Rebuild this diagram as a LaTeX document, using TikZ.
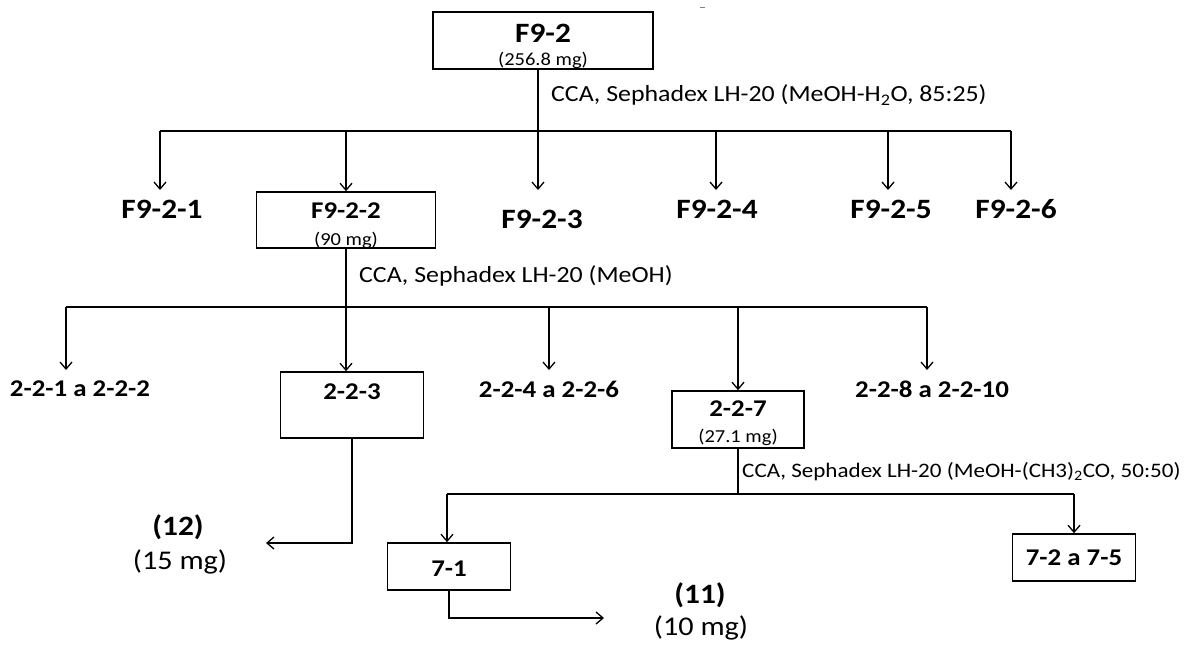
\documentclass[tikz,border=0pt]{standalone}
\usepackage{fontspec}
\setmainfont{Carlito}[FakeStretch=1.12]
\usetikzlibrary{arrows.meta}
\tikzset{
  ln/.style={line width=1.3pt},
  arr/.style={line width=1.3pt,-{Straight Barb[length=7pt,width=12pt,line width=1.3pt]}},
  bx/.style={draw,line width=1.6pt,inner sep=0pt},
  bigb/.style={font=\fontsize{28}{32}\selectfont\bfseries,inner sep=0pt},
  midb/.style={font=\fontsize{24}{28}\selectfont\bfseries,inner sep=0pt},
  reg/.style={font=\fontsize{23.1}{27}\selectfont,inner sep=0pt},
  regsm/.style={font=\fontsize{20.6}{24}\selectfont,inner sep=0pt},
  reglg/.style={font=\fontsize{27}{31}\selectfont,inner sep=0pt},
  sml/.style={font=\fontsize{18.3}{21}\selectfont,inner sep=0pt}
}
\begin{document}
\begin{tikzpicture}[x=1pt,y=-1pt]
\useasboundingbox (0,0) rectangle (1195,646);
% tiny mark at top
\draw[gray,line width=0.8pt] (700,7) -- (705,7);

% ---- level 0
\node[bx,minimum width=220,minimum height=57] (f92) at (543,40.5) {};
\node[bigb] (f92t) at (543,33) {F9-2};
\node[sml] (f92m) at (543,60) {(256.8 mg)};
\node[reg,anchor=west] (cca1) at (551,95) {CCA, Sephadex LH-20 (MeOH-H\textsubscript{2}O, 85:25)};

\coordinate (j1) at (538,131);
\coordinate (h1L) at (160,131);
\coordinate (h1R) at (1011,131);
\draw[ln] (h1L) -- (h1R);
\draw[ln] (f92.south -| j1) -- (j1);

% level 1 nodes
\coordinate (a1) at (160,190);
\coordinate (a3) at (538,190);
\coordinate (a4) at (716,190);
\coordinate (a5) at (888,190);
\coordinate (a6) at (1011,190);
\node[bigb] (f921) at (162,209) {F9-2-1};
\node[bx,minimum width=179,minimum height=56] (f922) at (346,220) {};
\node[midb] (f922t) at (346,211) {F9-2-2};
\node[sml] (f922m) at (346,240) {(90 mg)};
\node[bigb] (f923) at (542,219) {F9-2-3};
\node[bigb] (f924) at (717,209) {F9-2-4};
\node[bigb] (f925) at (891,209) {F9-2-5};
\node[bigb] (f926) at (1016,209) {F9-2-6};

\draw[arr] (h1L) -- (a1);
\draw[arr] (f922.north |- j1) -- (f922.north);
\draw[arr] (j1) -- (a3);
\draw[arr] (a4 |- j1) -- (a4);
\draw[arr] (a5 |- j1) -- (a5);
\draw[arr] (h1R) -- (a6);

% ---- level 2
\node[reg,anchor=west] (cca2) at (359,276) {CCA, Sephadex LH-20 (MeOH)};
\coordinate (j2) at (346,307);
\coordinate (h2L) at (66,307);
\coordinate (h2R) at (927,307);
\draw[ln] (h2L) -- (h2R);
\draw[ln] (f922.south) -- (j2);

\coordinate (b1) at (66,370);
\coordinate (b4) at (549,370);
\coordinate (b8) at (927,370);
\node[midb] (n221) at (80,389) {2-2-1 a 2-2-2};
\node[bx,minimum width=143,minimum height=66] (n223) at (352,405) {};
\node[midb] (n223t) at (352,392) {2-2-3};
\node[midb] (n224) at (549,389) {2-2-4 a 2-2-6};
\node[bx,minimum width=132,minimum height=57] (n227) at (738,419.5) {};
\node[midb] (n227t) at (738,409) {2-2-7};
\node[sml] (n227m) at (738,437) {(27.1 mg)};
\node[midb] (n228) at (932,389) {2-2-8 a 2-2-10};

\draw[arr] (h2L) -- (b1);
\draw[arr] (j2) -- (j2 |- n223.north);
\draw[arr] (b4 |- j2) -- (b4);
\draw[arr] (n227.north |- j2) -- (n227.north);
\draw[arr] (h2R) -- (b8);

% 2-2-3 -> (12)
\coordinate (e1) at (352,543);
\coordinate (e1t) at (266,543);
\draw[arr] (n223.south) -- (e1) -- (e1t);
\node[bigb] (c12) at (178,527) {(12)};
\node[reglg] (c12m) at (180,562) {(15 mg)};

% ---- level 3
\node[regsm,anchor=west] (cca3) at (742,472) {CCA, Sephadex LH-20 (MeOH-(CH3)\textsubscript{2}CO, 50:50)};
\coordinate (j3) at (738,494);
\coordinate (h3L) at (447,494);
\coordinate (h3R) at (1074,494);
\draw[ln] (n227.south) -- (j3);
\draw[ln] (h3L) -- (h3R);

\node[bx,minimum width=123,minimum height=47] (n71) at (449,566.5) {};
\node[midb] (n71t) at (449,569) {7-1};
\node[bx,minimum width=123,minimum height=47,midb] (n72) at (1074,557.5) {7-2 a 7-5};
\draw[arr] (h3L) -- (h3L |- n71.north);
\draw[arr] (h3R) -- (n72.north);

% 7-1 -> (11)
\coordinate (e2) at (449,618);
\coordinate (e2t) at (604,618);
\draw[arr] (n71.south) -- (e2) -- (e2t);
\node[bigb] (c11) at (700,595) {(11)};
\node[reglg] (c11m) at (701,628) {(10 mg)};
\end{tikzpicture}
\end{document}
